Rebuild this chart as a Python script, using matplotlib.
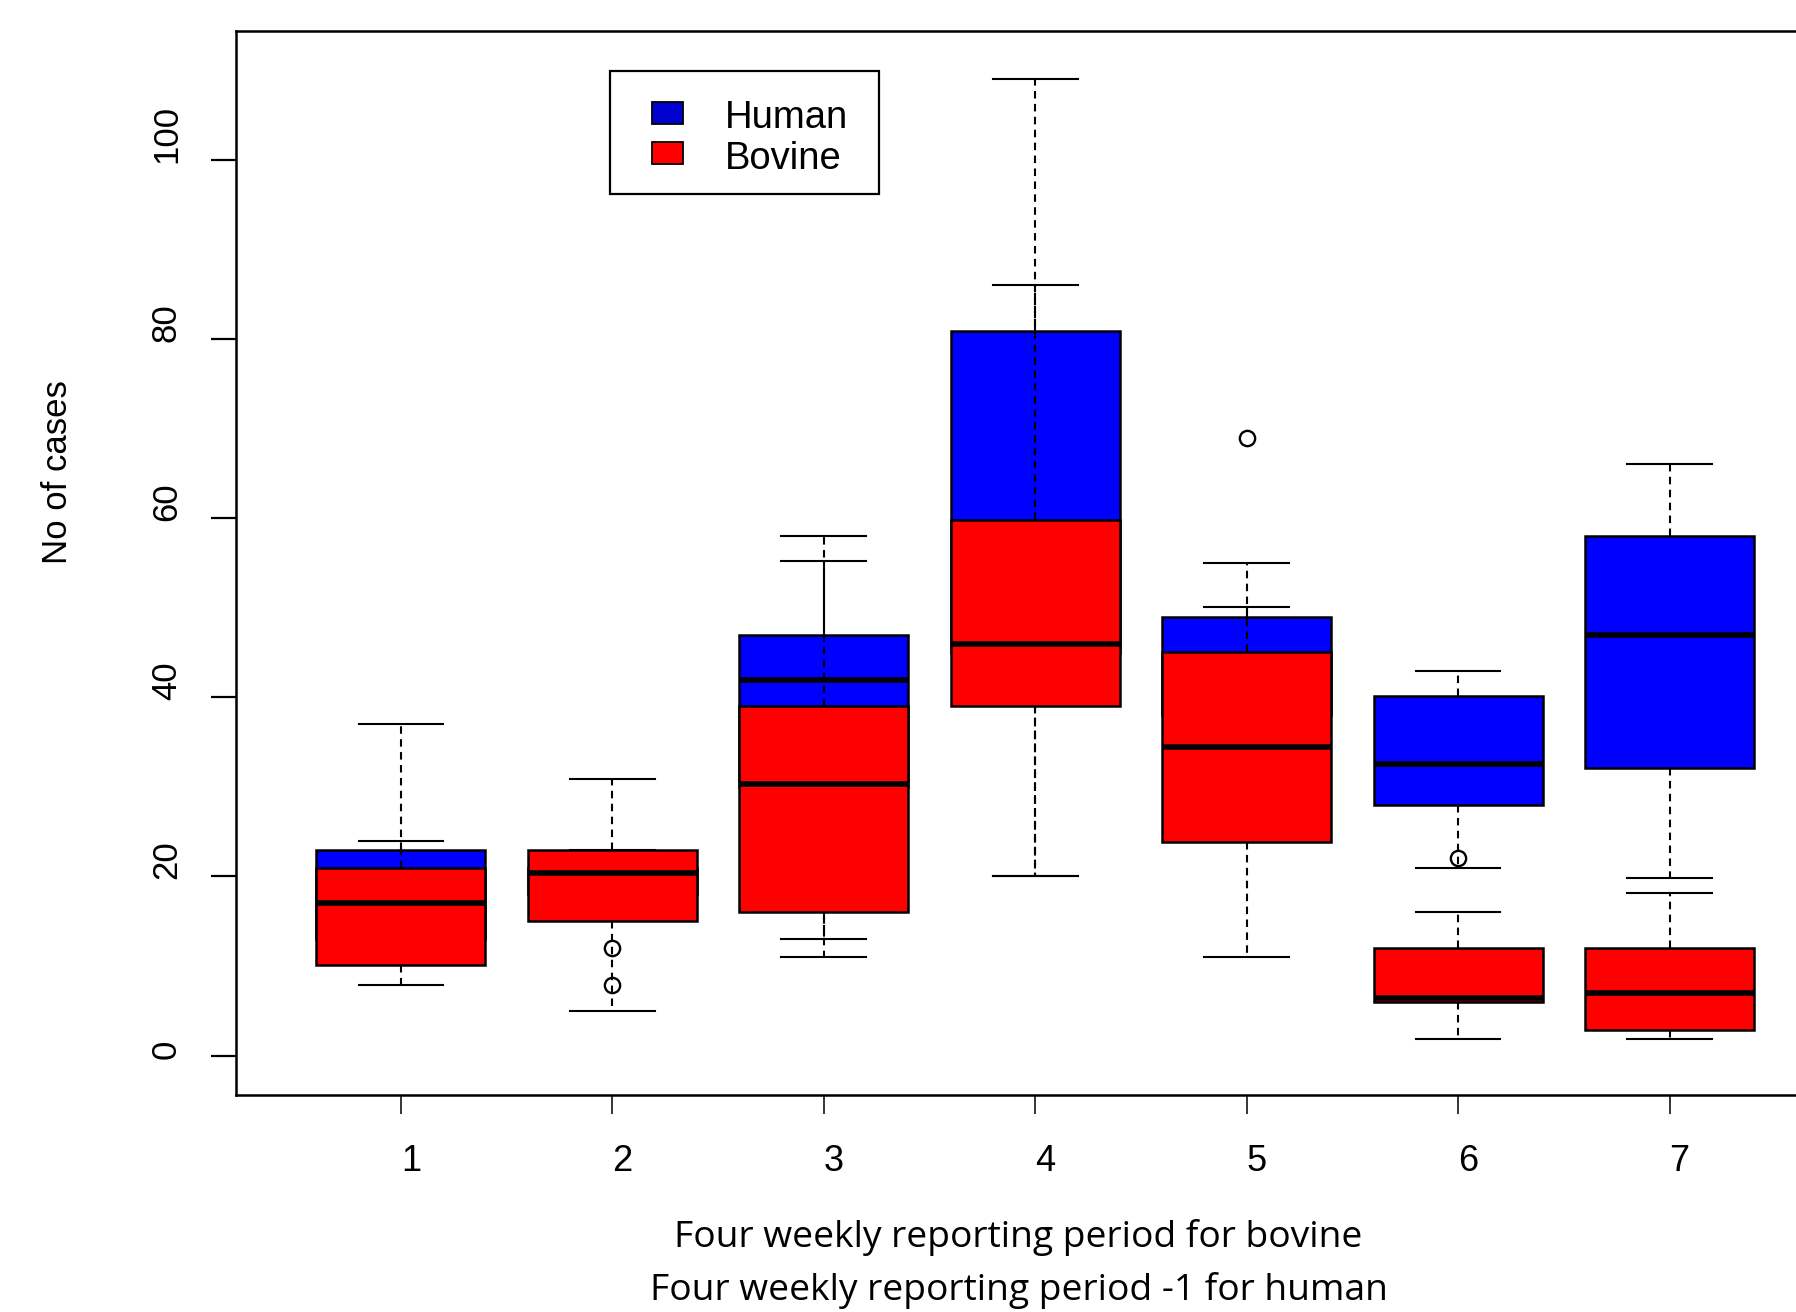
import matplotlib
matplotlib.use("Agg")
import matplotlib.pyplot as plt
from matplotlib.patches import Rectangle
from matplotlib.transforms import blended_transform_factory, ScaledTranslation

# four weekly reporting periods
periods = [1, 2, 3, 4, 5, 6, 7]

# Human cases (period - 1): box summaries
human_low = [11, 16, 13, 20, 27, 21, 19.8]
human_q1 = [13, 18, 30, 45, 38, 28, 32.1]
human_med = [18, 20, 41.9, 55, 43, 32.6, 47]
human_q3 = [23, 21, 47, 80.9, 49, 40.1, 58]
human_high = [37, 23, 58, 109, 55, 42.9, 66.1]
human_out = [[], [12, 7.9], [], [], [69], [], []]

# Bovine cases
bovine_low = [7.9, 5, 11, 20, 11, 1.9, 1.9]
bovine_q1 = [10.1, 15, 16, 39, 23.9, 6, 2.9]
bovine_med = [17, 20.4, 30.3, 46, 34.4, 6.4, 7]
bovine_q3 = [21, 22.9, 39, 59.8, 45.1, 12, 12]
bovine_high = [24, 30.9, 55.2, 86, 50.1, 16, 18.1]
bovine_out = [[], [], [], [], [], [22.1], []]

yticks = [0, 20, 40, 60, 80, 100]

HUMAN_COL = '#0000FF'
BOVINE_COL = '#FF0000'


def make_stats(low, q1, med, q3, high, out):
    return [dict(whislo=a, q1=b, med=c, q3=d, whishi=e, fliers=f)
            for a, b, c, d, e, f in zip(low, q1, med, q3, high, out)]


def draw_boxes(ax, stats, color, z):
    ax.bxp(stats, positions=periods, widths=0.8, capwidths=0.4,
           patch_artist=True, zorder=z,
           boxprops=dict(facecolor=color, edgecolor='black', linewidth=1.8),
           medianprops=dict(color='black', linewidth=4.0, solid_capstyle='butt'),
           whiskerprops=dict(color='black', linewidth=1.5, linestyle=(0, (3.6, 2.6))),
           capprops=dict(color='black', linewidth=1.5),
           flierprops=dict(marker='o', markerfacecolor='none', markeredgecolor='black',
                           markersize=11, markeredgewidth=1.7))


fig = plt.figure(figsize=(17.96, 13.12), dpi=100)
ax = fig.add_axes([0.1314, 0.1654, 0.890, 0.811])

# human drawn first, bovine on top (as in the original R plot)
draw_boxes(ax, make_stats(human_low, human_q1, human_med, human_q3, human_high, human_out),
           HUMAN_COL, 2)
draw_boxes(ax, make_stats(bovine_low, bovine_q1, bovine_med, bovine_q3, bovine_high, bovine_out),
           BOVINE_COL, 3)

ax.set_xlim(0.22, 7.78)
ax.set_ylim(-4.4, 114.4)
for s in ax.spines.values():
    s.set_linewidth(1.8)

ax.set_xticks(periods, labels=[''] * len(periods))
ax.set_yticks(yticks, labels=[''] * len(yticks))
ax.tick_params(axis='x', direction='out', length=14, width=1.1)
ax.tick_params(axis='y', direction='out', length=18, width=1.6)

# tick labels placed by hand to mimic R's offsets
tx = blended_transform_factory(ax.transData, ax.transAxes)
for p in periods:
    ax.text(p, 0, str(p), fontsize=26, family='Liberation Sans', ha='center', va='baseline',
            transform=tx + ScaledTranslation(0.10, -0.757, fig.dpi_scale_trans))

ty = blended_transform_factory(ax.transAxes, ax.transData)
for v in yticks:
    ax.text(0, v, str(v), fontsize=25, family='Liberation Sans', rotation=90,
            rotation_mode='anchor', ha='left', va='baseline',
            transform=ty + ScaledTranslation(-0.60, -0.03, fig.dpi_scale_trans))

fig.text(0.0318, 0.6405, 'No of cases', rotation=90, ha='center', va='center',
         fontsize=25, family='Liberation Sans')

fig.text(0.567, 0.0498, 'Four weekly reporting period for bovine', ha='center',
         va='baseline', fontsize=26.8, family='Open Sans')
fig.text(0.5676, 0.0091, 'Four weekly reporting period -1 for human', ha='center',
         va='baseline', fontsize=26.8, family='Open Sans')

# legend box
fig.add_artist(Rectangle((0.3399, 0.8521), 0.1496, 0.0938, transform=fig.transFigure,
                         facecolor='white', edgecolor='black', linewidth=1.6, zorder=5))
fig.add_artist(Rectangle((0.3629, 0.9057), 0.0176, 0.0168, transform=fig.transFigure,
                         facecolor='#0000D0', edgecolor='black', linewidth=1.3, zorder=6))
fig.add_artist(Rectangle((0.3629, 0.8748), 0.0176, 0.0168, transform=fig.transFigure,
                         facecolor=BOVINE_COL, edgecolor='black', linewidth=1.3, zorder=6))
fig.text(0.4037, 0.9022, 'Human', fontsize=27.5, family='Liberation Sans', va='baseline', zorder=7)
fig.text(0.4037, 0.8713, 'Bovine', fontsize=27.5, family='Liberation Sans', va='baseline', zorder=7)

fig.savefig('out.png', dpi=100)
